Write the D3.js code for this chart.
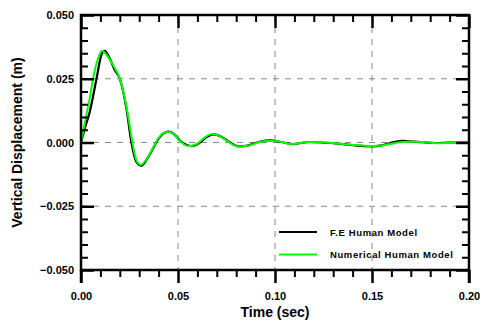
<!DOCTYPE html>
<html>
<head>
<meta charset="utf-8">
<script src="https://cdn.jsdelivr.net/npm/d3@7"></script>
<style>
  body { margin: 0; background: #fff; }
  svg text { font-family: "Liberation Sans", Arial, sans-serif; font-weight: bold; fill: #000; }
</style>
</head>
<body>
<div id="chart"></div>
<script>
// F.E Human Model (black)
var feTime = [0, 0.002, 0.0045, 0.008, 0.0105, 0.0122, 0.0145, 0.0174, 0.02, 0.0234, 0.026, 0.0285, 0.0311, 0.034, 0.037, 0.040, 0.043, 0.0455, 0.048, 0.051, 0.0545, 0.057, 0.061, 0.065, 0.0685, 0.072, 0.0765, 0.0815, 0.086, 0.092, 0.0975, 0.1025, 0.109, 0.118, 0.126, 0.135, 0.142, 0.150, 0.155, 0.161, 0.166, 0.170, 0.176, 0.183, 0.190, 0.200];
var feDisp = [0, 0.0056, 0.012, 0.025, 0.0343, 0.0359, 0.0335, 0.0284, 0.025, 0.0134, 0, -0.0075, -0.0091, -0.0065, -0.0025, 0.0015, 0.0038, 0.0043, 0.0033, 0.0008, -0.001, -0.0014, -0.0002, 0.0022, 0.0032, 0.0024, 0.0002, -0.0015, -0.0012, 0.0003, 0.0008, 0.0003, -0.0006, 0.0002, -0.0001, -0.0006, -0.0012, -0.0015, -0.0011, 0.0001, 0.0006, 0.0005, 0.0001, -0.0002, 0, 0];

// Numerical Human Model (green)
var numTime = [0, 0.002, 0.0045, 0.0062, 0.0088, 0.0108, 0.013, 0.0165, 0.020, 0.0242, 0.0265, 0.0285, 0.0308, 0.0335, 0.0365, 0.0395, 0.0425, 0.045, 0.048, 0.051, 0.0535, 0.0562, 0.060, 0.064, 0.0674, 0.071, 0.0755, 0.0811, 0.086, 0.092, 0.0974, 0.1025, 0.1085, 0.118, 0.126, 0.135, 0.143, 0.1505, 0.156, 0.162, 0.1696, 0.176, 0.1834, 0.190, 0.200];
var numDisp = [0, 0.008, 0.0173, 0.025, 0.033, 0.036, 0.0345, 0.0304, 0.025, 0.0108, 0, -0.0068, -0.0088, -0.0068, -0.003, 0.0012, 0.0037, 0.0042, 0.0033, 0.0006, -0.0009, -0.0014, -0.0004, 0.0021, 0.0033, 0.0027, 0.0005, -0.0016, -0.0013, 0.0002, 0.0007, 0.0003, -0.0006, 0.0002, 0, -0.0006, -0.0011, -0.0014, -0.0011, -0.0002, 0.0004, 0.0002, -0.0003, -0.0001, 0];

var xTicks = [0, 0.05, 0.10, 0.15, 0.20];
var xMinor = [0.01, 0.02, 0.03, 0.04, 0.06, 0.07, 0.08, 0.09, 0.11, 0.12, 0.13, 0.14, 0.16, 0.17, 0.18, 0.19];
var yTicks = [-0.050, -0.025, 0, 0.025, 0.050];
var yMinor = [-0.045, -0.040, -0.035, -0.030, -0.020, -0.015, -0.010, -0.005, 0.005, 0.010, 0.015, 0.020, 0.030, 0.035, 0.040, 0.045];
var legendNames = ["F.E Human Model", "Numerical Human Model"];
var legendColors = ["#000000", "#00ff00"];

var width = 482, height = 325;
var margin = {top: 15, right: 13, bottom: 55, left: 81};
var w = width - margin.left - margin.right;
var h = height - margin.top - margin.bottom;

var svg = d3.select("#chart").append("svg")
  .attr("width", width)
  .attr("height", height);
var g = svg.append("g")
  .attr("transform", "translate(" + margin.left + "," + margin.top + ")");

var x = d3.scaleLinear().domain([0, 0.2]).range([0, w]);
var y = d3.scaleLinear().domain([-0.05, 0.05]).range([h, 0]);

// dashed grid at inner major ticks
g.selectAll(".vgrid").data(xTicks.slice(1, -1)).enter().append("line")
  .attr("x1", d => x(d)).attr("x2", d => x(d))
  .attr("y1", 0).attr("y2", h)
  .attr("stroke", "#888").attr("stroke-width", 1).attr("stroke-dasharray", "6,6");
g.selectAll(".hgrid").data(yTicks.slice(1, -1)).enter().append("line")
  .attr("x1", 0).attr("x2", w)
  .attr("y1", d => y(d)).attr("y2", d => y(d))
  .attr("stroke", "#888").attr("stroke-width", 1).attr("stroke-dasharray", "6,6");

// data lines
var line = d3.line()
  .x(d => x(d[0]))
  .y(d => y(d[1]))
  .curve(d3.curveMonotoneX);

g.append("path")
  .datum(d3.zip(feTime, feDisp))
  .attr("d", line)
  .attr("fill", "none").attr("stroke", legendColors[0]).attr("stroke-width", 2.2);
g.append("path")
  .datum(d3.zip(numTime, numDisp))
  .attr("d", line)
  .attr("fill", "none").attr("stroke", legendColors[1]).attr("stroke-width", 2);

// axes
function styleAxis(sel, sw) {
  sel.select(".domain").remove();
  sel.selectAll(".tick line").attr("stroke", "#000").attr("stroke-width", sw);
  sel.selectAll("text").style("font-size", "11px");
}

var bottom = g.append("g").attr("transform", "translate(0," + h + ")")
  .call(d3.axisBottom(x).tickValues(xTicks).tickSize(13).tickPadding(9).tickFormat(d3.format(".2f")));
styleAxis(bottom, 2.5);
g.append("g").attr("transform", "translate(0," + h + ")")
  .call(d3.axisBottom(x).tickValues(xMinor).tickSize(7).tickFormat(""))
  .call(s => styleAxis(s, 2));

var left = g.append("g")
  .call(d3.axisLeft(y).tickValues(yTicks).tickSize(-13).tickPadding(7).tickFormat(d3.format(".3f")));
styleAxis(left, 2.5);
g.append("g")
  .call(d3.axisLeft(y).tickValues(yMinor).tickSize(-7).tickFormat(""))
  .call(s => styleAxis(s, 2));

g.append("g")
  .call(d3.axisTop(x).tickValues(xTicks).tickSize(-13).tickFormat(""))
  .call(s => styleAxis(s, 2.5));
g.append("g")
  .call(d3.axisTop(x).tickValues(xMinor).tickSize(-7).tickFormat(""))
  .call(s => styleAxis(s, 2));

g.append("g").attr("transform", "translate(" + w + ",0)")
  .call(d3.axisRight(y).tickValues(yTicks).tickSize(-13).tickFormat(""))
  .call(s => styleAxis(s, 2.5));
g.append("g").attr("transform", "translate(" + w + ",0)")
  .call(d3.axisRight(y).tickValues(yMinor).tickSize(-7).tickFormat(""))
  .call(s => styleAxis(s, 2));

// frame
g.append("rect")
  .attr("x", 0).attr("y", 0).attr("width", w).attr("height", h)
  .attr("fill", "none").attr("stroke", "#000").attr("stroke-width", 2.5);
// left and right edges run down to the bottom tick length
g.append("line").attr("x1", 0).attr("x2", 0).attr("y1", h).attr("y2", h + 13)
  .attr("stroke", "#000").attr("stroke-width", 2.5);
g.append("line").attr("x1", w).attr("x2", w).attr("y1", h).attr("y2", h + 13)
  .attr("stroke", "#000").attr("stroke-width", 2.5);

// axis titles
svg.append("text")
  .attr("x", margin.left + w / 2).attr("y", 317)
  .attr("text-anchor", "middle")
  .style("font-size", "14px")
  .text("Time (sec)");
svg.append("text")
  .attr("transform", "translate(22," + (margin.top + h / 2) + ") rotate(-90)")
  .attr("text-anchor", "middle")
  .style("font-size", "14px")
  .text("Vertical Displacement (m)");

// legend
var legend = g.append("g").attr("transform", "translate(" + (279 - margin.left) + "," + (232 - margin.top) + ")");
legendNames.forEach(function(name, i) {
  legend.append("line")
    .attr("x1", 0).attr("x2", 38)
    .attr("y1", i * 22.5).attr("y2", i * 22.5)
    .attr("stroke", legendColors[i]).attr("stroke-width", 2);
  legend.append("text")
    .attr("x", 51).attr("y", i * 22.5 + 3.5)
    .style("font-size", "9.5px")
    .style("letter-spacing", "0.6px")
    .text(name);
});
</script>
</body>
</html>
